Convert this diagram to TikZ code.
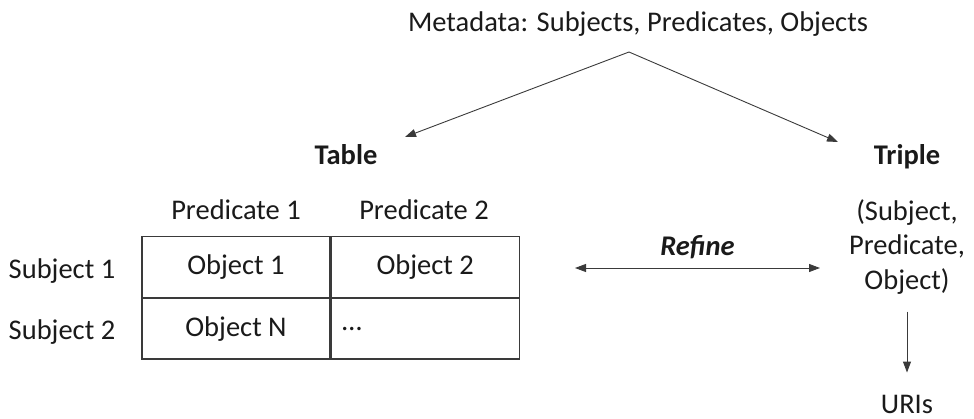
\documentclass[tikz,border=0pt]{standalone}
\usepackage{fontspec}
\setmainfont{Carlito}
\usetikzlibrary{arrows.meta,positioning}
\definecolor{negrotexto}{HTML}{1A1A1A}
\definecolor{grislinea}{HTML}{3A3A3A}

\begin{document}
\begin{tikzpicture}[
    x=1pt, y=-1pt,
    texto/.style={font=\fontsize{28.5}{34.5}\selectfont, text=negrotexto, inner sep=0pt},
    titulo/.style={texto, font=\fontsize{28.5}{34.5}\selectfont\bfseries},
    celda/.style={draw=grislinea, line width=1.2pt, minimum width=188pt,
      minimum height=60.5pt, inner sep=0pt, texto},
    flecha/.style={-{Triangle[length=11pt,width=8pt]}, line width=0.9pt, draw=grislinea},
    dobleflecha/.style={flecha, {Triangle[length=11pt,width=8pt]}-{Triangle[length=11pt,width=8pt]}}
  ]
    \useasboundingbox (0,0) rectangle (974,419);

    \node[texto] (metadata) at (638,24) {Metadata: Subjects, Predicates, Objects};
    \coordinate (vertice) at (629,52);
    \node[titulo] (tabla) at (346,155) {Table};
    \node[titulo] (triple) at (907,157) {Triple};

    % tabla
    \node[celda] (obj1) at (236,267) {Object 1};
    \node[celda, right=0pt of obj1] (obj2) {Object 2};
    \node[celda, below=0pt of obj1] (objN) {Object N};
    \node[celda, below=0pt of obj2, text width=166pt, align=left] (puntos) {\dots};
    \node[texto] (pred1) at (236,210) {Predicate 1};
    \node[texto] (pred2) at (424,210) {Predicate 2};
    \node[texto] (suj1) at (62,271) {Subject 1};
    \node[texto] (suj2) at (62,332) {Subject 2};

    % triple
    \node[texto, align=center] (tripleta) at (907,247)
      {(Subject,\\Predicate,\\Object)};
    \node[texto] (uris) at (907,404) {URIs};
    \coordinate (izq) at (575,268);
    \coordinate (der) at (820,268);

    \draw[flecha] (vertice) -- (405,137);
    \draw[flecha] (vertice) -- (838,142);
    \draw[dobleflecha] (izq) -- node[above=9pt, titulo, font=\fontsize{28.5}{34.5}\selectfont\bfseries\itshape] (refinar) {Refine} (der);
    \draw[flecha, shorten <=17pt, shorten >=22pt] (tripleta.south) -- (uris.north);
\end{tikzpicture}
\end{document}
